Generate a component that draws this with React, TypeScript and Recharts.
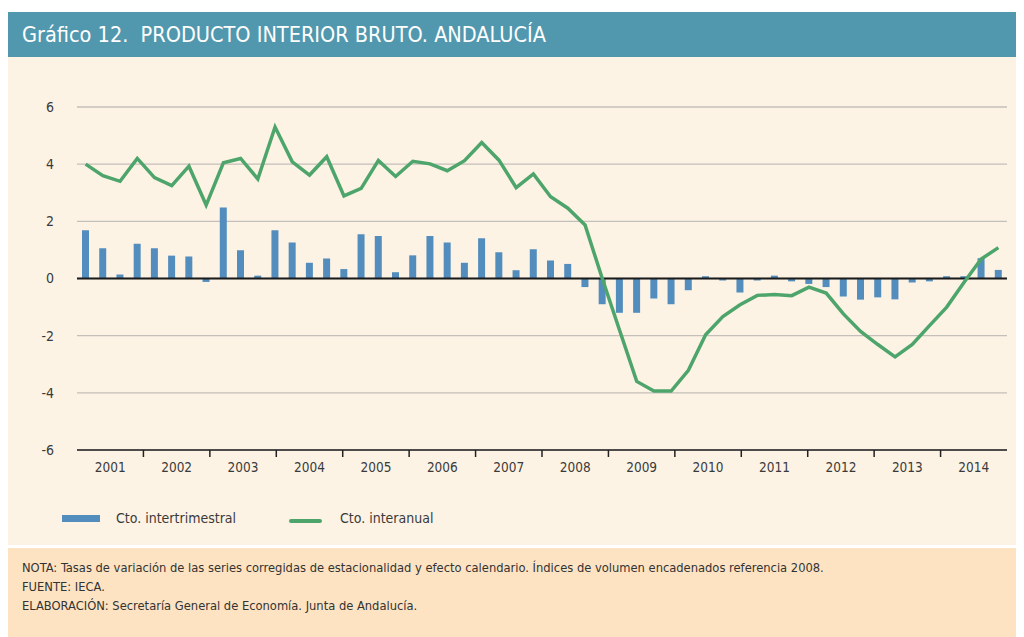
import React from 'react';
import {
  ComposedChart,
  Bar,
  Line,
  XAxis,
  YAxis,
  CartesianGrid,
  ReferenceLine,
  Legend,
} from 'recharts';

// Year bands on the axis (the data runs from 2001-I to 2014-II)
const years = [
  '2001', '2002', '2003', '2004', '2005', '2006', '2007',
  '2008', '2009', '2010', '2011', '2012', '2013', '2014',
];
const quarterNames = ['I', 'II', 'III', 'IV'];
const quarters = years
  .flatMap((y) => quarterNames.map((q) => `${q}-${y}`))
  .slice(0, 54);

// Cto. intertrimestral (%)
const intertrimestral = [
  1.69, 1.06, 0.14, 1.22, 1.06, 0.8, 0.77, -0.12, 2.48, 0.99, 0.1, 1.69, 1.26, 0.55,
  0.7, 0.33, 1.55, 1.49, 0.22, 0.81, 1.49, 1.26, 0.55, 1.41, 0.92, 0.29, 1.02, 0.63,
  0.51, -0.3, -0.9, -1.2, -1.2, -0.7, -0.9, -0.41, 0.08, -0.07, -0.49, -0.07, 0.1,
  -0.1, -0.19, -0.3, -0.63, -0.74, -0.66, -0.73, -0.14, -0.1, 0.08, 0.08, 0.71, 0.3,
];

// Cto. interanual (%)
const interanual = [
  4.0, 3.6, 3.4, 4.2, 3.53, 3.25, 3.93, 2.57, 4.05, 4.2, 3.48, 5.3, 4.08, 3.62,
  4.26, 2.89, 3.15, 4.13, 3.57, 4.1, 4.01, 3.77, 4.12, 4.76, 4.14, 3.18, 3.66, 2.86,
  2.46, 1.87, 0.0, -1.8, -3.6, -3.94, -3.94, -3.21, -1.97, -1.33, -0.92, -0.59, -0.56,
  -0.6, -0.3, -0.51, -1.24, -1.85, -2.31, -2.74, -2.31, -1.65, -1.0, -0.14, 0.68, 1.08,
];

const yTicks = [-6, -4, -2, 0, 2, 4, 6];

const data = quarters.map((name, i) => ({
  name,
  pos: i + 0.5,
  intertrimestral: intertrimestral[i],
  interanual: interanual[i],
}));

// the year bands split the axis evenly: tick marks between years, labels in the middle
const yearWidth = quarters.length / years.length;
const yearCenters = years.map((_, i) => (i + 0.5) * yearWidth);
const yearBounds = years.slice(1).map((_, i) => (i + 1) * yearWidth);
const xTicks = [...yearCenters, ...yearBounds];

const FONT = '"DejaVu Sans Condensed", "Liberation Sans Narrow", "Liberation Sans", sans-serif';
const TEXT = '#3a3a3a';

const YearTick = (props: any) => {
  const { x, y, payload } = props;
  const ci = yearCenters.findIndex((c) => Math.abs(c - payload.value) < 1e-6);
  if (ci < 0) {
    return <line x1={x} y1={y} x2={x} y2={y + 7} stroke="#222222" strokeWidth={1.5} />;
  }
  return (
    <text x={x} y={y + 12} dy="0.71em" textAnchor="middle" fill={TEXT} fontSize={13.5} fontFamily={FONT}>
      {years[ci]}
    </text>
  );
};

const renderLegend = (props: any) => {
  const payload = [...(props.payload || [])].sort(
    (a: any, b: any) => (a.type === 'line' ? 1 : 0) - (b.type === 'line' ? 1 : 0)
  );
  const lefts = [54, 281];
  return (
    <div style={{ position: 'relative', height: 28, fontFamily: FONT, fontStretch: 'condensed', fontSize: 14, color: TEXT }}>
      {payload.map((entry: any, i: number) => (
        <div
          key={entry.value}
          style={{ position: 'absolute', left: lefts[i], top: 0, height: 28, display: 'flex', alignItems: 'center' }}
        >
          {entry.type === 'line' ? (
            <span style={{ display: 'inline-block', width: 33, height: 4, borderRadius: 2, background: entry.color, marginTop: 5 }} />
          ) : (
            <span style={{ display: 'inline-block', width: 38, height: 7, background: entry.color }} />
          )}
          <span style={{ marginLeft: entry.type === 'line' ? 18 : 16 }}>{entry.value}</span>
        </div>
      ))}
    </div>
  );
};

const App: React.FC = () => {
  return (
    <div style={{ width: 1016, marginTop: 4, fontFamily: FONT, fontStretch: 'condensed' }}>
      {/* title band */}
      <div
        style={{
          height: 45,
          lineHeight: '45px',
          background: '#5198ae',
          color: '#ffffff',
          fontSize: 21.5,
          paddingLeft: 14,
          whiteSpace: 'pre',
        }}
      >
        {'Gráfico 12.  PRODUCTO INTERIOR BRUTO. ANDALUCÍA'}
      </div>

      {/* chart */}
      <div style={{ height: 488, background: '#fdf3e5' }}>
        <ComposedChart
          width={1016}
          height={488}
          data={data}
          margin={{ top: 50, right: 17, bottom: 0, left: 0 }}
        >
          <CartesianGrid vertical={false} stroke="#c3bfba" strokeWidth={1.3} />
          <XAxis
            dataKey="pos"
            type="number"
            domain={[0, quarters.length]}
            allowDataOverflow
            ticks={xTicks}
            interval={0}
            tick={<YearTick />}
            tickLine={false}
            tickSize={0}
            tickMargin={0}
            axisLine={{ stroke: '#222222', strokeWidth: 1.5 }}
            height={95}
          />
          <YAxis
            domain={[-6, 6]}
            ticks={yTicks}
            width={69}
            axisLine={false}
            tickLine={false}
            tickSize={0}
            tickMargin={23}
            tick={{ fill: TEXT, fontSize: 14, fontFamily: FONT }}
          />
          <Bar
            dataKey="intertrimestral"
            name="Cto. intertrimestral"
            fill="#528dbd"
            barSize={7}
            isAnimationActive={false}
          />
          <ReferenceLine y={0} stroke="#1b1b1b" strokeWidth={2} />
          <Line
            type="linear"
            dataKey="interanual"
            name="Cto. interanual"
            stroke="#4ea56b"
            strokeWidth={3.5}
            dot={false}
            activeDot={false}
            isAnimationActive={false}
          />
          <Legend
            layout="horizontal"
            align="center"
            verticalAlign="middle"
            content={renderLegend}
            wrapperStyle={{ top: 447, left: 0, width: 500, height: 28 }}
          />
        </ComposedChart>
      </div>

      {/* notes */}
      <div style={{ height: 3, background: '#ffffff' }} />
      <div
        style={{
          height: 89,
          boxSizing: 'border-box',
          background: '#fde3c2',
          paddingLeft: 14,
          paddingTop: 10,
          fontSize: 12.8,
          lineHeight: '19px',
          color: '#333333',
        }}
      >
        <div>NOTA: Tasas de variación de las series corregidas de estacionalidad y efecto calendario. Índices de volumen encadenados referencia 2008.</div>
        <div>FUENTE: IECA.</div>
        <div>ELABORACIÓN: Secretaría General de Economía. Junta de Andalucía.</div>
      </div>
    </div>
  );
};

export default App;
